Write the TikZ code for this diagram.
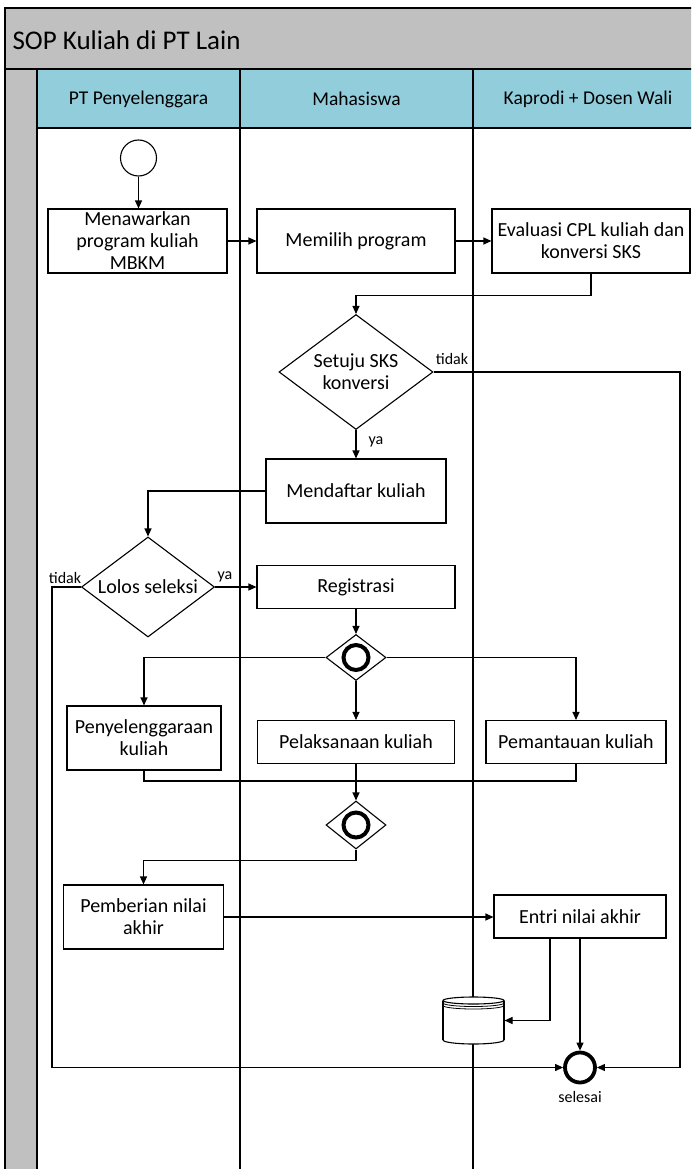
\documentclass[tikz,border=0pt]{standalone}
\usepackage{fontspec}
\setmainfont{Carlito}
\usetikzlibrary{shapes.geometric,arrows.meta}
\definecolor{bandgray}{RGB}{192,192,192}
\definecolor{laneblue}{RGB}{146,205,220}

\begin{document}
\begin{tikzpicture}[x=1pt,y=-1pt,line width=1.1pt,
  task/.style={draw,fill=white,rectangle,inner sep=1pt,align=center,
    font=\fontsize{20}{22}\selectfont},
  gate/.style={draw,fill=white,diamond,inner sep=0pt},
  gatetext/.style={align=center,inner sep=0pt,font=\fontsize{20}{22}\selectfont},
  gateway/.style={gate,minimum width=60pt,minimum height=46pt},
  ring/.style={line width=4pt},
  flow/.style={-{Triangle[length=8pt,width=7pt]}},
  lbl/.style={inner sep=0pt,font=\fontsize{16}{18}\selectfont},
  lanehead/.style={inner sep=0pt,font=\fontsize{19.5}{21}\selectfont}]

\path[use as bounding box,clip] (0,0) rectangle (691,1169);

% pool frame, title band and lane headers
\fill[bandgray] (5,8) rectangle (710,69);
\fill[bandgray] (5,69) rectangle (37,1180);
\fill[laneblue] (37,69) rectangle (710,128);
\draw (5,8) rectangle (710,1180);
\draw (5,69) -- (710,69);
\draw (37,69) -- (37,1180);
\draw (37,128) -- (710,128);
\draw (240,69) -- (240,1180);
\draw (473,69) -- (473,1180);
\draw (703,69) -- (703,1180);

\node[anchor=west,inner sep=0pt,font=\fontsize{27}{29}\selectfont] (title) at (12,40) {SOP Kuliah di PT Lain};
\node[lanehead] (laneA) at (138.5,99) {PT Penyelenggara};
\node[lanehead] (laneB) at (356.5,99) {Mahasiswa};
\node[lanehead] (laneC) at (588,99) {Kaprodi + Dosen Wali};

% activities
\node[draw,fill=white,circle,minimum size=36pt,inner sep=0pt] (start) at (138.5,158) {};
\node[task,minimum width=179pt,minimum height=64pt] (offer) at (137.5,241) {Menawarkan\\program kuliah\\MBKM};
\node[task,minimum width=198pt,minimum height=64pt] (choose) at (356,241) {Memilih program};
\node[task,minimum width=198pt,minimum height=64pt] (evaluate) at (591,241) {Evaluasi CPL kuliah dan\\konversi SKS};

\node[gate,minimum width=154pt,minimum height=115pt,
  label={[gatetext]center:Setuju SKS\\konversi}] (agree) at (356,372) {};
\node[task,minimum width=180pt,minimum height=64pt] (enrol) at (356,491) {Mendaftar kuliah};

\node[gate,minimum width=133pt,minimum height=100pt,
  label={[gatetext]center:Lolos seleksi}] (select) at (148,587) {};
\node[task,minimum width=198pt,minimum height=43pt] (register) at (356,587) {Registrasi};

\node[gateway] (fork) at (356,657.5) {};
\draw[ring] (fork.center) circle (12.5);

\node[task,minimum width=154pt,minimum height=64pt] (organize) at (144,738) {Penyelenggaraan\\kuliah};
\node[task,minimum width=197pt,minimum height=43pt] (attend) at (356,742) {Pelaksanaan kuliah};
\node[task,minimum width=180pt,minimum height=43pt] (monitor) at (576,742) {Pemantauan kuliah};

\node[gateway,minimum height=48pt] (join) at (356,825) {};
\draw[ring] (join.center) circle (12.5);

\node[task,minimum width=160pt,minimum height=64pt] (grade) at (143.5,917) {Pemberian nilai\\akhir};
\node[task,minimum width=172pt,minimum height=43pt] (entry) at (580,916.5) {Entri nilai akhir};

% data store (cylinder with banded lid)
\node[inner sep=0pt,minimum width=61pt,minimum height=47pt] (store) at (473.5,1020.5) {};
\begin{scope}[shift={(store.center)}]
  \fill[white] (-30.5,-20) rectangle (30.5,19.5);
  \fill[white] (0,19.5) ellipse (30.5 and 4);
  \draw (-30.5,-20) -- (-30.5,19.5);
  \draw (30.5,-20) -- (30.5,19.5);
  \draw (-30.5,19.5) arc[start angle=180,end angle=0,x radius=30.5,y radius=4];
  \draw[fill=white] (0,-20) ellipse (30.5 and 3.5);
  \draw[line width=0.8pt] (-30.5,-17.5) arc[start angle=180,end angle=0,x radius=30.5,y radius=3.5];
  \draw[line width=0.8pt] (-30.5,-15) arc[start angle=180,end angle=0,x radius=30.5,y radius=3.5];
\end{scope}

\node[draw,circle,line width=3.8pt,minimum size=30pt,inner sep=0pt,
  label={[lbl,label distance=6pt]below:selesai}] (finish) at (580,1067.5) {};

% rails for the rejection paths
\coordinate (rightrail) at (680,372);
\coordinate (leftrail) at (52,587);
\coordinate (joinbar) at (356,781);

% connectors
\draw[flow] (start.south) -- (start.south |- offer.north);
\draw[flow] (offer.east) -- (choose.west);
\draw[flow] (choose.east) -- (evaluate.west);
\draw[flow] (evaluate.south) -- ++(0,22) -| (agree.north);
\draw[flow] (agree.east) -- (rightrail) |- (finish.east);
\node[lbl] (agreeNo) at (452,359) {tidak};
\draw[flow] (agree.south) -- (enrol.north);
\node[lbl] (agreeYes) at (376,442) {ya};
\draw[flow] (enrol.west) -| (select.north);
\draw[flow] (select.east) -- (register.west);
\node[lbl] (selectYes) at (225,577) {ya};
\draw[flow] (select.west) -- (leftrail) |- (finish.west);
\node[lbl] (selectNo) at (65,578) {tidak};
\draw[flow] (register.south) -- (fork.north);
\draw[flow] (fork.west) -| (organize.north);
\draw[flow] (fork.east) -| (monitor.north);
\draw[flow] (fork.south) -- (attend.north);
\draw (organize.south) |- (joinbar) -| (monitor.south);
\draw[flow] (attend.south) -- (join.north);
\draw[flow] (join.south) -- ++(0,11) -| (grade.north);
\draw[flow] (grade.east) -- (grade.east -| entry.west);
\draw[flow] ([xshift=-30pt]entry.south) |- (store.east);
\draw[flow] (entry.south) -- (finish.north);

\end{tikzpicture}
\end{document}
